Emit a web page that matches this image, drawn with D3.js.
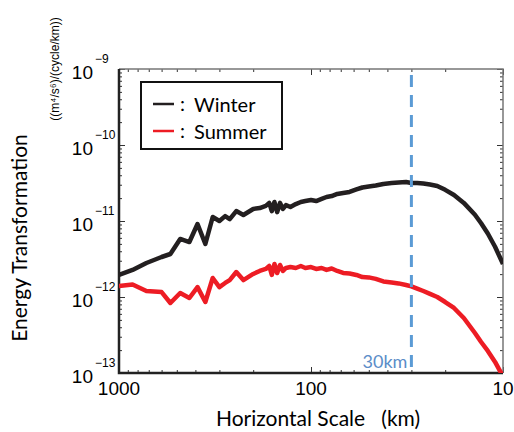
<!DOCTYPE html>
<html>
<head>
<meta charset="utf-8">
<script src="https://cdn.jsdelivr.net/npm/d3@7"></script>
<style>
  body { margin: 0; background: #fff; }
  svg { display: block; }
</style>
</head>
<body>
<svg id="chart" width="514" height="432"></svg>
<script>
// Horizontal scale (km) sampled along both curves
var scaleKm = [1000, 850, 720, 600, 540, 480, 430, 390, 355, 325,
               300, 280, 265, 245, 225, 200, 185, 172, 165, 160,
               155, 150, 145, 140, 135, 128, 120, 113, 107, 100,
               94, 88, 83, 78, 73, 68, 63, 58, 54, 50,
               46, 42, 38, 35, 32, 30, 28, 26, 24, 22,
               20, 18, 16, 14, 13, 12, 11, 10];

// Energy transformation, (m^4/s^6)/(cycle/km)
var winter = [1.95e-12, 2.27e-12, 2.80e-12, 3.36e-12, 3.68e-12, 5.80e-12, 5.29e-12, 9.13e-12, 4.98e-12, 1.13e-11,
              1.00e-11, 1.16e-11, 1.06e-11, 1.35e-11, 1.20e-11, 1.44e-11, 1.48e-11, 1.58e-11, 1.73e-11, 1.35e-11,
              1.78e-11, 1.31e-11, 1.73e-11, 1.44e-11, 1.62e-11, 1.53e-11, 1.67e-11, 1.78e-11, 1.83e-11, 1.89e-11,
              1.83e-11, 1.95e-11, 2.07e-11, 2.13e-11, 2.27e-11, 2.34e-11, 2.41e-11, 2.60e-11, 2.76e-11, 2.84e-11,
              2.93e-11, 3.07e-11, 3.16e-11, 3.21e-11, 3.26e-11, 3.16e-11, 3.16e-11, 3.11e-11, 3.02e-11, 2.89e-11,
              2.57e-11, 2.20e-11, 1.73e-11, 1.21e-11, 9.33e-12, 6.85e-12, 4.58e-12, 2.72e-12];

var summer = [1.40e-12, 1.46e-12, 1.20e-12, 1.16e-12, 8.34e-13, 1.13e-12, 9.70e-13, 1.35e-12, 8.59e-13, 1.78e-12,
              1.35e-12, 1.53e-12, 1.67e-12, 2.13e-12, 1.67e-12, 2.01e-12, 2.20e-12, 2.34e-12, 2.56e-12, 1.95e-12,
              2.72e-12, 2.07e-12, 2.64e-12, 2.20e-12, 2.41e-12, 2.48e-12, 2.41e-12, 2.56e-12, 2.41e-12, 2.48e-12,
              2.34e-12, 2.41e-12, 2.27e-12, 2.37e-12, 2.20e-12, 2.07e-12, 2.04e-12, 1.95e-12, 1.83e-12, 1.81e-12,
              1.73e-12, 1.60e-12, 1.55e-12, 1.51e-12, 1.44e-12, 1.38e-12, 1.29e-12, 1.20e-12, 1.10e-12, 1.00e-12,
              8.59e-13, 7.17e-13, 5.29e-13, 3.36e-13, 2.56e-13, 1.95e-13, 1.40e-13, 9.0e-14];

var xTicks = [1000, 100, 10];
var xTickLabels = ["1000", "100", "10"];
var yExponents = [-13, -12, -11, -10, -9];
var seriesNames = ["Winter", "Summer"];
var seriesColors = ["#231f20", "#ed1c24"];
var markerKm = 30;
var markerLabel = "30km";

var svg = d3.select("#chart");
// plot box (note: "top" is reserved on window, so use other names)
var plotL = 119, plotR = 503, plotT = 69, plotB = 373;

var x = d3.scaleLog().domain([1000, 10]).range([plotL, plotR]);
var y = d3.scaleLog().domain([1e-13, 1e-9]).range([plotB, plotT]);

// minor ticks 2..9 inside each decade
var xMinor = [];
[10, 100].forEach(function(d) { for (var k = 2; k <= 9; k++) xMinor.push(d * k); });
var yMinor = [];
yExponents.slice(0, 4).forEach(function(e) { for (var k = 2; k <= 9; k++) yMinor.push(k * Math.pow(10, e)); });
var yMajor = yExponents.map(function(e) { return Math.pow(10, e); });

function addAxis(axis, tx, ty) {
    var g = svg.append("g").attr("transform", "translate(" + tx + "," + ty + ")").call(axis);
    g.select(".domain").remove();
    g.selectAll("line").attr("stroke", "#333").attr("stroke-width", 1);
    return g;
}
addAxis(d3.axisBottom(x).tickValues(xTicks).tickSizeInner(-6).tickSizeOuter(0).tickFormat(""), 0, plotB);
addAxis(d3.axisBottom(x).tickValues(xMinor).tickSizeInner(-3).tickSizeOuter(0).tickFormat(""), 0, plotB);
addAxis(d3.axisTop(x).tickValues(xTicks).tickSizeInner(-6).tickSizeOuter(0).tickFormat(""), 0, plotT);
addAxis(d3.axisTop(x).tickValues(xMinor).tickSizeInner(-3).tickSizeOuter(0).tickFormat(""), 0, plotT);
addAxis(d3.axisLeft(y).tickValues(yMajor).tickSizeInner(-6).tickSizeOuter(0).tickFormat(""), plotL, 0);
addAxis(d3.axisLeft(y).tickValues(yMinor).tickSizeInner(-3).tickSizeOuter(0).tickFormat(""), plotL, 0);
addAxis(d3.axisRight(y).tickValues(yMajor).tickSizeInner(-6).tickSizeOuter(0).tickFormat(""), plotR, 0);
addAxis(d3.axisRight(y).tickValues(yMinor).tickSizeInner(-3).tickSizeOuter(0).tickFormat(""), plotR, 0);

// frame: top/right lighter, left/bottom heavier
svg.append("path").attr("d", "M" + plotL + "," + plotT + "H" + plotR + "V" + plotB)
    .attr("fill", "none").attr("stroke", "#777").attr("stroke-width", 1.5);
svg.append("path").attr("d", "M" + plotL + "," + plotT + "V" + plotB + "H" + plotR)
    .attr("fill", "none").attr("stroke", "#222").attr("stroke-width", 2.5);

// x tick labels
svg.selectAll(".xlab").data(xTicks).enter().append("text")
    .attr("x", function(d) { return x(d); })
    .attr("y", plotB + 22)
    .attr("text-anchor", "middle")
    .attr("font-family", "Liberation Sans, Arial, sans-serif")
    .attr("font-size", 19)
    .text(function(d, i) { return xTickLabels[i]; });

// y tick labels: 10 with superscript exponent
var ylab = svg.selectAll(".ylab").data(yExponents).enter().append("g")
    .attr("transform", function(d) { return "translate(0," + y(Math.pow(10, d)) + ")"; });
ylab.append("text").attr("x", 93).attr("y", 10).attr("text-anchor", "end")
    .attr("font-family", "Liberation Sans, Arial, sans-serif").attr("font-size", 19).text("10");
ylab.append("text").attr("x", 95).attr("y", -6)
    .attr("font-family", "Liberation Sans, Arial, sans-serif").attr("font-size", 12)
    .text(function(d) { return "\u2212" + Math.abs(d); });

// axis titles
svg.append("text").attr("transform", "translate(27,238) rotate(-90)")
    .attr("text-anchor", "middle").attr("font-family", "Lato, sans-serif").attr("font-size", 21)
    .text("Energy Transformation");
svg.append("text").attr("transform", "translate(59,69) rotate(-90)")
    .attr("text-anchor", "middle").attr("font-family", "Liberation Sans, Arial, sans-serif").attr("font-size", 12)
    .text("((m\u2074/s\u2076)/(cycle/km))");
svg.append("text").attr("x", 318).attr("y", 426)
    .attr("text-anchor", "middle").attr("font-family", "Lato, sans-serif").attr("font-size", 21)
    .attr("xml:space", "preserve")
    .text("Horizontal Scale   (km)");

// curves
svg.append("clipPath").attr("id", "plotClip").append("rect")
    .attr("x", plotL).attr("y", plotT).attr("width", plotR - plotL).attr("height", plotB - plotT);

var line = d3.line()
    .x(function(d) { return x(d[0]); })
    .y(function(d) { return y(d[1]); });

[winter, summer].forEach(function(vals, i) {
    var pts = scaleKm.map(function(km, j) { return [km, vals[j]]; });
    svg.append("path")
        .attr("clip-path", "url(#plotClip)")
        .attr("d", line(pts))
        .attr("fill", "none")
        .attr("stroke", seriesColors[i])
        .attr("stroke-width", 4.5)
        .attr("stroke-linejoin", "round");
});

// 30 km marker
svg.append("line")
    .attr("x1", x(markerKm)).attr("x2", x(markerKm))
    .attr("y1", plotT + 6).attr("y2", plotB)
    .attr("stroke", "#5b9bd5").attr("stroke-width", 3)
    .attr("stroke-dasharray", "12,8");
svg.append("text").attr("x", x(markerKm) - 4).attr("y", 368)
    .attr("text-anchor", "end").attr("font-family", "Lato, sans-serif").attr("font-size", 18)
    .attr("fill", "#5b8dc8").text(markerLabel);

// legend
var lg = svg.append("g");
lg.append("rect").attr("x", 141).attr("y", 82).attr("width", 141).attr("height", 67)
    .attr("fill", "#fff").attr("stroke", "#111").attr("stroke-width", 2);
seriesNames.forEach(function(name, i) {
    var ly = 104 + i * 27;
    lg.append("line").attr("x1", 153).attr("x2", 174).attr("y1", ly).attr("y2", ly)
        .attr("stroke", seriesColors[i]).attr("stroke-width", 2.5);
    lg.append("text").attr("x", 180).attr("y", ly + 7)
        .attr("font-family", "Lato, sans-serif").attr("font-size", 20).text(":");
    lg.append("text").attr("x", 194).attr("y", ly + 8)
        .attr("font-family", "Lato, sans-serif").attr("font-size", 20).text(name);
});
</script>
</body>
</html>
